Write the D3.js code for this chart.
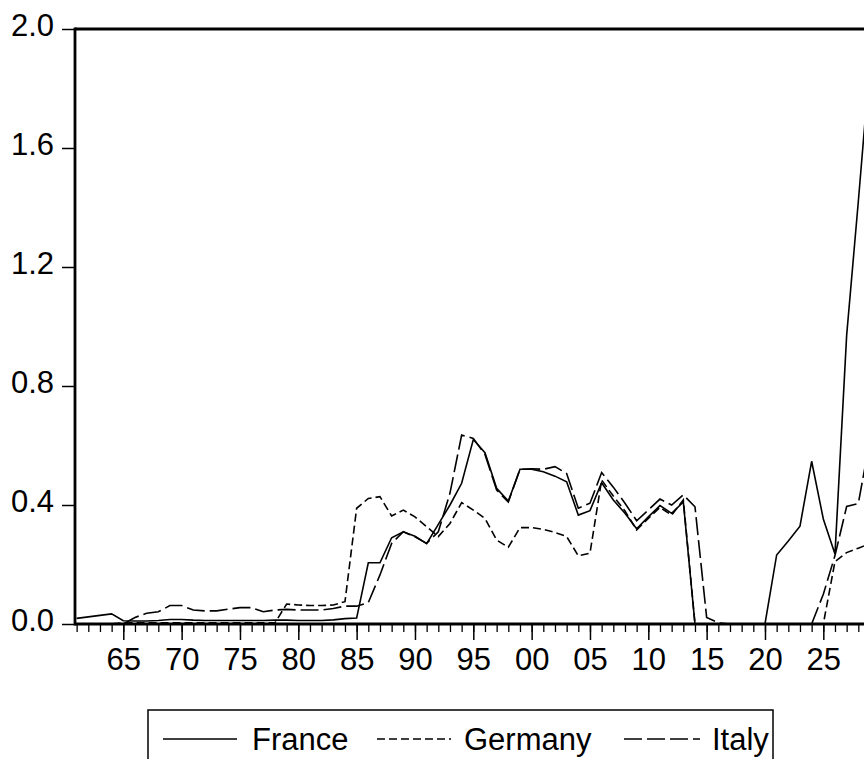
<!DOCTYPE html>
<html>
<head>
<meta charset="utf-8">
<script src="https://cdn.jsdelivr.net/npm/d3@7"></script>
<style>
  html, body { margin: 0; padding: 0; background: #ffffff; }
  svg { display: block; }
  text { font-family: "Liberation Sans", Arial, sans-serif; fill: #000; }
</style>
</head>
<body>
<svg id="chart" width="864" height="759"></svg>
<script>
// ---------- data ----------
const years = d3.range(1961, 2030); // 1961..2029

const france = [
  0.019, 0.024, 0.029, 0.034, 0.011, 0.010, 0.010, 0.012, 0.015, 0.015, // 61-70
  0.013, 0.012, 0.012, 0.012, 0.012, 0.012, 0.012, 0.013, 0.013, 0.012, // 71-80
  0.012, 0.012, 0.014, 0.018, 0.020, 0.206, 0.206, 0.290, 0.310, 0.295, // 81-90
  0.270, 0.335, 0.400, 0.473, 0.620, 0.576, 0.456, 0.413, 0.520, 0.520, // 91-00
  0.512, 0.497, 0.478, 0.366, 0.381, 0.475, 0.417, 0.372, 0.320, 0.360, // 01-10
  0.398, 0.372, 0.410, 0.000, 0.000, 0.000, 0.000, 0.000, 0.000, 0.000, // 11-20
  0.232, 0.279, 0.329, 0.547, 0.353, 0.235, 0.970, 1.420, 1.890        // 21-29
];

const germany = [
  0.000, 0.000, 0.000, 0.000, 0.004, 0.004, 0.004, 0.004, 0.004, 0.004, // 61-70
  0.004, 0.004, 0.004, 0.004, 0.004, 0.004, 0.004, 0.004, 0.067, 0.064, // 71-80
  0.062, 0.062, 0.064, 0.075, 0.389, 0.422, 0.428, 0.363, 0.383, 0.360, // 81-90
  0.327, 0.294, 0.338, 0.408, 0.383, 0.355, 0.282, 0.258, 0.324, 0.324, // 91-00
  0.318, 0.308, 0.294, 0.229, 0.238, 0.484, 0.430, 0.380, 0.316, 0.355, // 01-10
  0.392, 0.366, 0.417, 0.000, 0.000, 0.000, 0.000, 0.000, 0.000, 0.000, // 11-20
  0.000, 0.000, 0.000, 0.000, 0.000, 0.210, 0.240, 0.255, 0.270        // 21-29
];

const italy = [
  0.000, 0.000, 0.000, 0.000, 0.000, 0.022, 0.036, 0.041, 0.062, 0.062, // 61-70
  0.047, 0.044, 0.044, 0.050, 0.055, 0.055, 0.041, 0.047, 0.049, 0.047, // 71-80
  0.047, 0.047, 0.052, 0.060, 0.060, 0.072, 0.165, 0.271, 0.310, 0.293, // 81-90
  0.271, 0.310, 0.440, 0.635, 0.624, 0.570, 0.450, 0.410, 0.520, 0.522, // 91-00
  0.520, 0.529, 0.506, 0.389, 0.406, 0.509, 0.460, 0.406, 0.347, 0.383, // 01-10
  0.420, 0.400, 0.434, 0.394, 0.022, 0.004, 0.000, 0.000, 0.000, 0.000, // 11-20
  0.000, 0.000, 0.000, 0.000, 0.100, 0.230, 0.395, 0.405, 0.620        // 21-29
];

const seriesNames = ["France", "Germany", "Italy"];
const yTicks = [0.0, 0.4, 0.8, 1.2, 1.6, 2.0];
const majorYears = d3.range(1965, 2030, 5);

// ---------- layout ----------
const svg = d3.select("#chart");
const plotLeft = 75, plotTop = 29, plotBottom = 624, plotRight = 875;

const x = d3.scaleLinear().domain([1960.86, 2029.43]).range([plotLeft, plotRight]);
const y = d3.scaleLinear().domain([0, 2]).range([plotBottom, plotTop]);

const styles = {
  France:  { dash: null },
  Germany: { dash: "8,4" },
  Italy:   { dash: "18,5" }
};
const seriesData = { France: france, Germany: germany, Italy: italy };

// ---------- lines ----------
const line = d3.line()
  .x((d, i) => x(years[i]))
  .y(d => y(d));

seriesNames.forEach(name => {
  svg.append("path")
    .datum(seriesData[name])
    .attr("fill", "none")
    .attr("stroke", "#000")
    .attr("stroke-width", 1.6)
    .attr("stroke-linejoin", "miter")
    .attr("stroke-dasharray", styles[name].dash)
    .attr("d", line);
});

// ---------- axes ----------
const yAxis = d3.axisLeft(y)
  .tickValues(yTicks)
  .tickSize(13)
  .tickPadding(8)
  .tickFormat(d3.format(".1f"));
const gy = svg.append("g").attr("transform", `translate(${plotLeft},0)`).call(yAxis);
gy.select(".domain").remove();
gy.selectAll(".tick line").attr("stroke", "#000").attr("stroke-width", 1.5);
gy.selectAll(".tick text")
  .attr("dy", "0.22em")
  .style("font-size", "31px")
  .style("font-family", "'Liberation Sans', Arial, sans-serif");

const xMinor = d3.axisBottom(x).tickValues(years).tickSize(8).tickFormat("");
const gxm = svg.append("g").attr("transform", `translate(0,${plotBottom})`).call(xMinor);
gxm.select(".domain").remove();
gxm.selectAll(".tick line").attr("stroke", "#000").attr("stroke-width", 1.3);

const xMajor = d3.axisBottom(x)
  .tickValues(majorYears)
  .tickSize(16)
  .tickPadding(8)
  .tickFormat(d => String(d % 100).padStart(2, "0"));
const gx = svg.append("g").attr("transform", `translate(0,${plotBottom})`).call(xMajor);
gx.select(".domain").remove();
gx.selectAll(".tick line").attr("stroke", "#000").attr("stroke-width", 1.5);
gx.selectAll(".tick text")
  .style("font-size", "31px")
  .style("font-family", "'Liberation Sans', Arial, sans-serif");

// ---------- frame ----------
svg.append("line")
  .attr("x1", plotLeft).attr("x2", plotRight)
  .attr("y1", plotTop).attr("y2", plotTop)
  .attr("stroke", "#000").attr("stroke-width", 3);
svg.append("line")
  .attr("x1", plotLeft).attr("x2", plotLeft)
  .attr("y1", plotTop - 1.5).attr("y2", plotBottom + 1.5)
  .attr("stroke", "#000").attr("stroke-width", 2.8);
svg.append("line")
  .attr("x1", plotLeft).attr("x2", plotRight)
  .attr("y1", plotBottom).attr("y2", plotBottom)
  .attr("stroke", "#000").attr("stroke-width", 3);

// ---------- legend ----------
const legend = svg.append("g");
legend.append("rect")
  .attr("x", 148).attr("y", 710)
  .attr("width", 625).attr("height", 80)
  .attr("fill", "#fff")
  .attr("stroke", "#000")
  .attr("stroke-width", 1.5);

const legendItems = [
  { name: "France",  x1: 163, x2: 237, tx: 252 },
  { name: "Germany", x1: 377, x2: 451, tx: 464 },
  { name: "Italy",   x1: 624, x2: 700, tx: 712 }
];
legendItems.forEach(it => {
  legend.append("line")
    .attr("x1", it.x1).attr("x2", it.x2)
    .attr("y1", 739).attr("y2", 739)
    .attr("stroke", "#000")
    .attr("stroke-width", 1.6)
    .attr("stroke-dasharray", styles[it.name].dash);
  legend.append("text")
    .attr("x", it.tx).attr("y", 750)
    .style("font-size", "31px")
    .text(it.name);
});
</script>
</body>
</html>
